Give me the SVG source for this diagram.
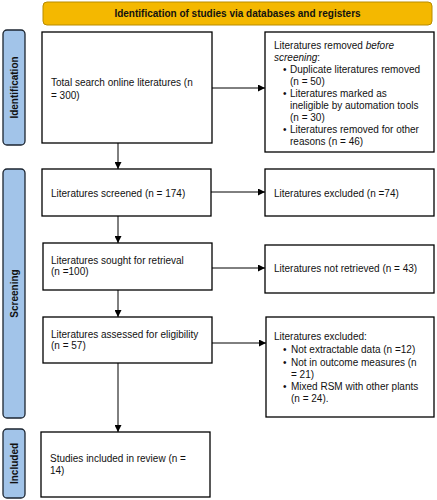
<svg xmlns="http://www.w3.org/2000/svg" width="437" height="500" viewBox="0 0 437 500">
<defs>
<marker id="ah" viewBox="0 0 10 10" refX="10" refY="5" markerWidth="7" markerHeight="7" markerUnits="userSpaceOnUse" orient="auto">
<path d="M0,0 L10,5 L0,10 z" fill="#000"/>
</marker>
<style>
.box{fill:#fff;stroke:#000;stroke-width:1.3}
.side{fill:#A2C4E9;stroke:#1c2530;stroke-width:1.3}
.banner{fill:#F4B800;stroke:#B88C00;stroke-width:1}
.t{font-family:"Liberation Sans",Arial,sans-serif;font-size:10px;fill:#111}
.b{font-family:"Liberation Sans",Arial,sans-serif;font-size:10px;font-weight:bold;fill:#111}
.c{stroke:#000;stroke-width:1;fill:none;marker-end:url(#ah)}
</style>
</defs>
<rect width="437" height="500" fill="#fff"/>
<g id="banner">
<rect class="banner" x="43" y="2" width="389" height="23" rx="4"/>
<text class="b" x="237.5" y="17" text-anchor="middle">Identification of studies via databases and registers</text>
</g>
<g id="phase-identification">
<rect class="side" x="3" y="30" width="22" height="115" rx="4"/>
<text class="b" transform="translate(17.5,87.5) rotate(-90)" text-anchor="middle">Identification</text>
</g>
<g id="phase-screening">
<rect class="side" x="3" y="169" width="22" height="249" rx="4"/>
<text class="b" transform="translate(17.5,293.5) rotate(-90)" text-anchor="middle">Screening</text>
</g>
<g id="phase-included">
<rect class="side" x="3" y="429" width="22" height="69" rx="4"/>
<text class="b" transform="translate(17.5,463.5) rotate(-90)" text-anchor="middle">Included</text>
</g>
<g id="n-total">
<rect class="box" x="42" y="32" width="170" height="111"/>
<text class="t" x="51" y="86">Total search online literatures (n</text>
<text class="t" x="51" y="99">= 300)</text>
</g>
<g id="n-removed">
<rect class="box" x="265" y="32" width="169" height="120"/>
<text class="t" x="274" y="48.5">Literatures removed <tspan font-style="italic">before</tspan></text>
<text class="t" x="274" y="60.5"><tspan font-style="italic">screening</tspan>:</text>
<text class="t" x="283" y="72.5">•</text><text class="t" x="290" y="72.5">Duplicate literatures removed</text>
<text class="t" x="290" y="84.5">(n = 50)</text>
<text class="t" x="283" y="96.5">•</text><text class="t" x="290" y="96.5">Literatures marked as</text>
<text class="t" x="290" y="108.5">ineligible by automation tools</text>
<text class="t" x="290" y="120.5">(n = 30)</text>
<text class="t" x="283" y="132.5">•</text><text class="t" x="290" y="132.5">Literatures removed for other</text>
<text class="t" x="290" y="144.5">reasons (n = 46)</text>
</g>
<g id="n-screened">
<rect class="box" x="42" y="169" width="169" height="47"/>
<text class="t" x="51" y="196.5">Literatures screened (n = 174)</text>
</g>
<g id="n-excluded">
<rect class="box" x="265" y="169" width="169" height="47"/>
<text class="t" x="274" y="196.5">Literatures excluded (n =74)</text>
</g>
<g id="n-sought">
<rect class="box" x="43" y="243" width="169" height="47"/>
<text class="t" x="51" y="263.5">Literatures sought for retrieval</text>
<text class="t" x="51" y="275">(n =100)</text>
</g>
<g id="n-notretrieved">
<rect class="box" x="265" y="245" width="169" height="48"/>
<text class="t" x="274" y="271.5">Literatures not retrieved (n = 43)</text>
</g>
<g id="n-assessed">
<rect class="box" x="43" y="317" width="169" height="46"/>
<text class="t" x="51" y="337.5">Literatures assessed for eligibility</text>
<text class="t" x="51" y="349">(n = 57)</text>
</g>
<g id="n-excluded2">
<rect class="box" x="266" y="317" width="168" height="100"/>
<text class="t" x="274" y="339.5">Literatures excluded:</text>
<text class="t" x="283" y="352.5">•</text><text class="t" x="291" y="352.5">Not extractable data (n =12)</text>
<text class="t" x="283" y="365.5">•</text><text class="t" x="291" y="365.5">Not in outcome measures (n</text>
<text class="t" x="291" y="377.5">= 21)</text>
<text class="t" x="283" y="389.5">•</text><text class="t" x="291" y="389.5">Mixed RSM with other plants</text>
<text class="t" x="291" y="402">(n = 24).</text>
</g>
<g id="n-included">
<rect class="box" x="41" y="432" width="169" height="65"/>
<text class="t" x="50" y="461.5">Studies included in review (n =</text>
<text class="t" x="50" y="473.5">14)</text>
</g>
<g id="connectors">
<line class="c" x1="212" y1="88" x2="265" y2="88"/>
<line class="c" x1="118" y1="143" x2="118" y2="169"/>
<line class="c" x1="211" y1="192" x2="265" y2="192"/>
<line class="c" x1="118" y1="216" x2="118" y2="243"/>
<line class="c" x1="212" y1="268" x2="265" y2="268"/>
<line class="c" x1="118" y1="290" x2="118" y2="317"/>
<line class="c" x1="212" y1="343" x2="266" y2="343"/>
<line class="c" x1="118" y1="363" x2="118" y2="432"/>
</g>
</svg>
